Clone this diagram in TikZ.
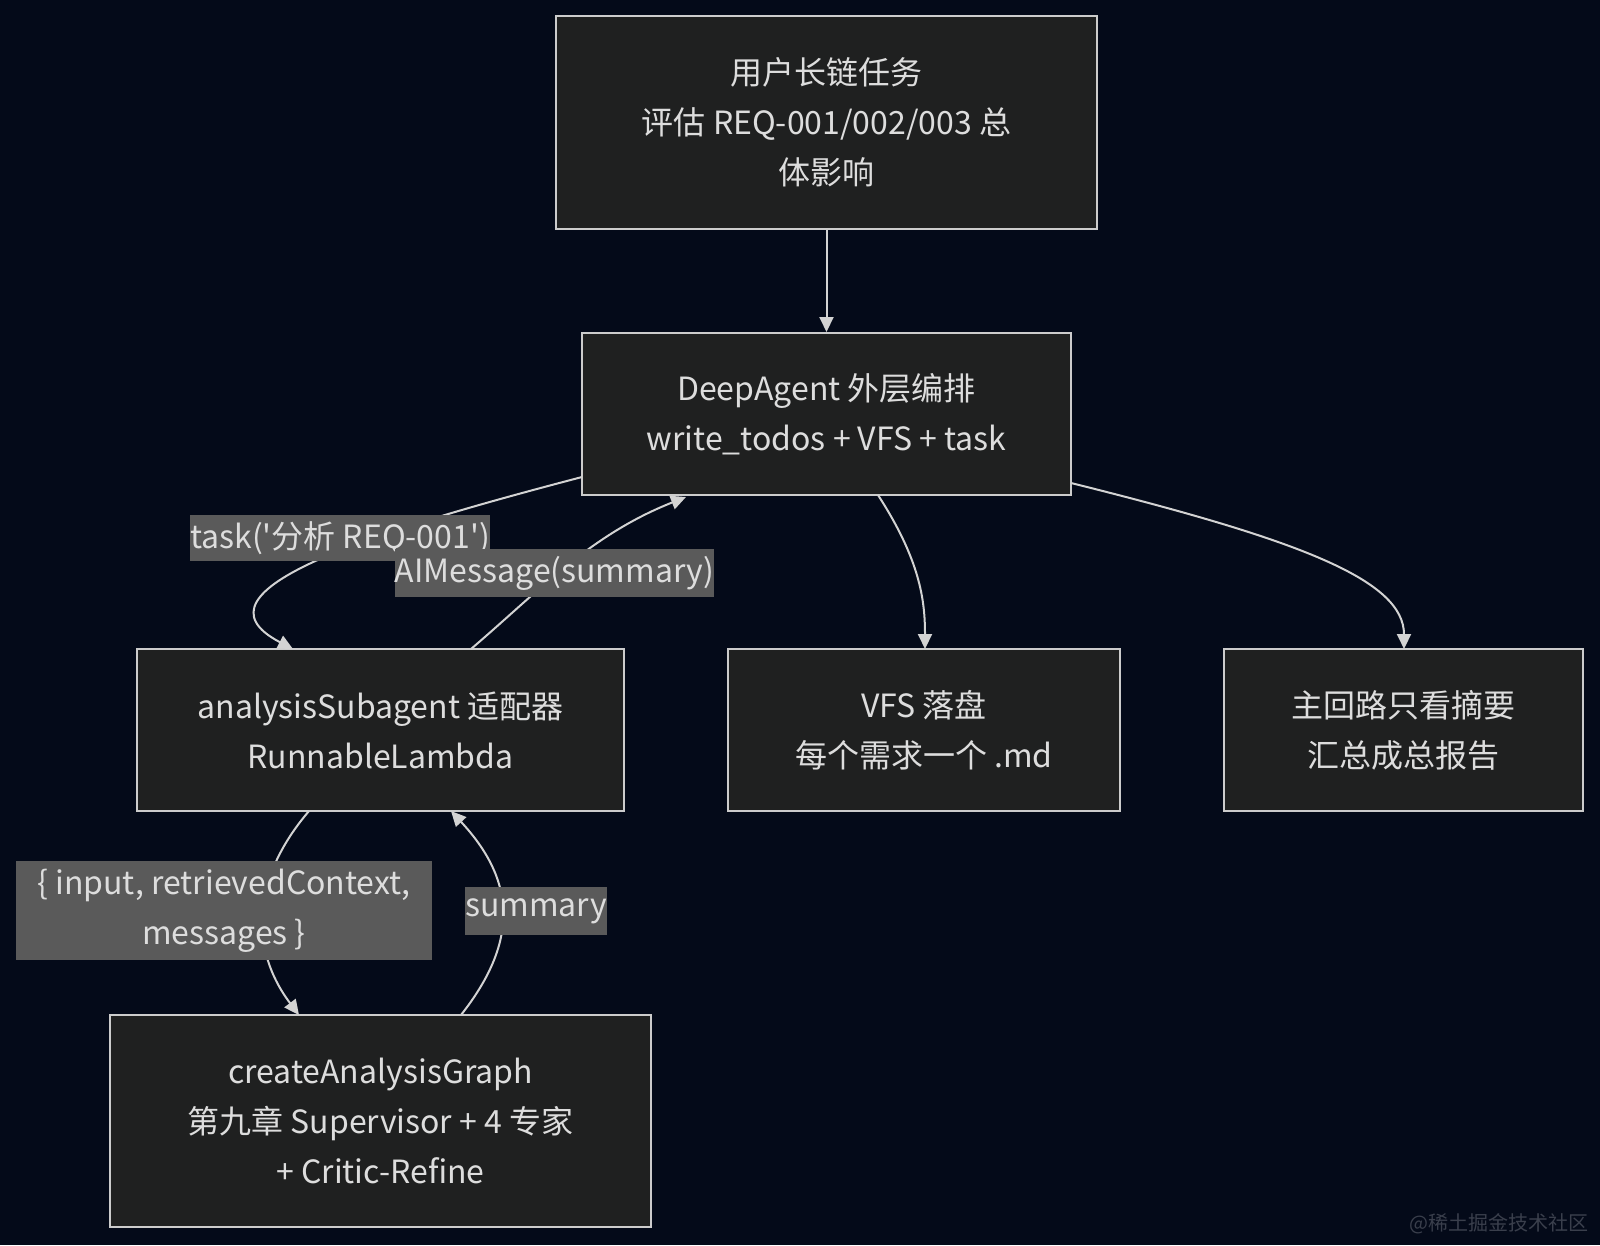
\documentclass[tikz,border=0pt]{standalone}
\usepackage{fontspec}
\newfontfamily\nf{Noto Sans CJK SC}
\usetikzlibrary{arrows.meta}
\definecolor{bgc}{HTML}{040A19}
\definecolor{boxfill}{HTML}{1F2020}
\definecolor{boxline}{HTML}{CCCCCC}
\definecolor{fg}{HTML}{DDDDDD}
\definecolor{lblbg}{HTML}{5A5A5A}
\definecolor{edgec}{HTML}{D3D3D3}
\definecolor{wm}{HTML}{3A3F4C}
\tikzset{
  box/.style={draw=boxline, fill=boxfill, line width=2pt, text=fg, align=center,
    inner sep=0pt, font=\nf\fontsize{32}{50}\selectfont},
  lbl/.style={fill=lblbg, text=fg, align=center, inner sep=0pt,
    font=\nf\fontsize{32}{50}\selectfont},
  edge/.style={draw=edgec, line width=2pt, -{Triangle[length=15pt,width=14pt]}},
}
\begin{document}
\begin{tikzpicture}[x=1pt,y=-1pt]
\useasboundingbox[fill=bgc] (0,0) rectangle (1600,1245);

\node[box, minimum width=541pt, minimum height=213pt] (A) at (826.5,122.5)
  {用户长链任务\\评估 REQ-001/002/003 总\\体影响};
\node[box, minimum width=489pt, minimum height=162pt] (B) at (826.5,414)
  {DeepAgent 外层编排\\write\_todos + VFS + task};
\node[box, minimum width=487pt, minimum height=162pt] (C) at (380.5,730)
  {analysisSubagent 适配器\\RunnableLambda};
\node[box, minimum width=392pt, minimum height=162pt] (D) at (924,730)
  {VFS 落盘\\每个需求一个 .md};
\node[box, minimum width=359pt, minimum height=162pt] (E) at (1403.5,730)
  {主回路只看摘要\\汇总成总报告};
\node[box, minimum width=541pt, minimum height=212pt] (F) at (380.5,1121)
  {createAnalysisGraph\\第九章 Supervisor + 4 专家\\+ Critic-Refine};

\coordinate (Bw) at (582,477);
\coordinate (Ce) at (293,649);
\coordinate (Cs) at (471,649);
\coordinate (Bi) at (686,497);
\coordinate (Bd) at (878,495);
\coordinate (De) at (925,649);
\coordinate (Be) at (1071,483);
\coordinate (Ee) at (1404,649);
\coordinate (Cb) at (309,811);
\coordinate (Ft) at (299,1015);
\coordinate (Fs) at (461,1015);
\coordinate (Ci) at (451,811);

\draw[edge] (A.south) -- (B.north);
\draw[edge] (Bw) .. controls (380,530) and (180,590) .. (Ce);
\draw[edge] (Cs) .. controls (540,590) and (590,535) .. (Bi);
\draw[edge] (Bd) .. controls (920,560) and (925,600) .. (De);
\draw[edge] (Be) .. controls (1300,540) and (1404,580) .. (Ee);
\draw[edge] (Cb) .. controls (250,880) and (250,950) .. (Ft);
\draw[edge] (Fs) .. controls (520,940) and (515,880) .. (Ci);

\node[lbl, minimum width=296pt, minimum height=46pt] (L1) at (340,538) {task('分析 REQ-001')};
\node[lbl, minimum width=307pt, minimum height=48pt] (L2) at (554.5,573) {AIMessage(summary)};
\node[lbl, minimum width=416pt, minimum height=99pt] (L3) at (224,910.5) {\{ input, retrievedContext,\\messages \}};
\node[lbl, minimum width=134pt, minimum height=48pt] (L4) at (536,911) {summary};

\node[text=wm, font=\nf\fontsize{20}{24}\selectfont, anchor=east] (W) at (1592,1224) {@稀土掘金技术社区};
\end{tikzpicture}
\end{document}
